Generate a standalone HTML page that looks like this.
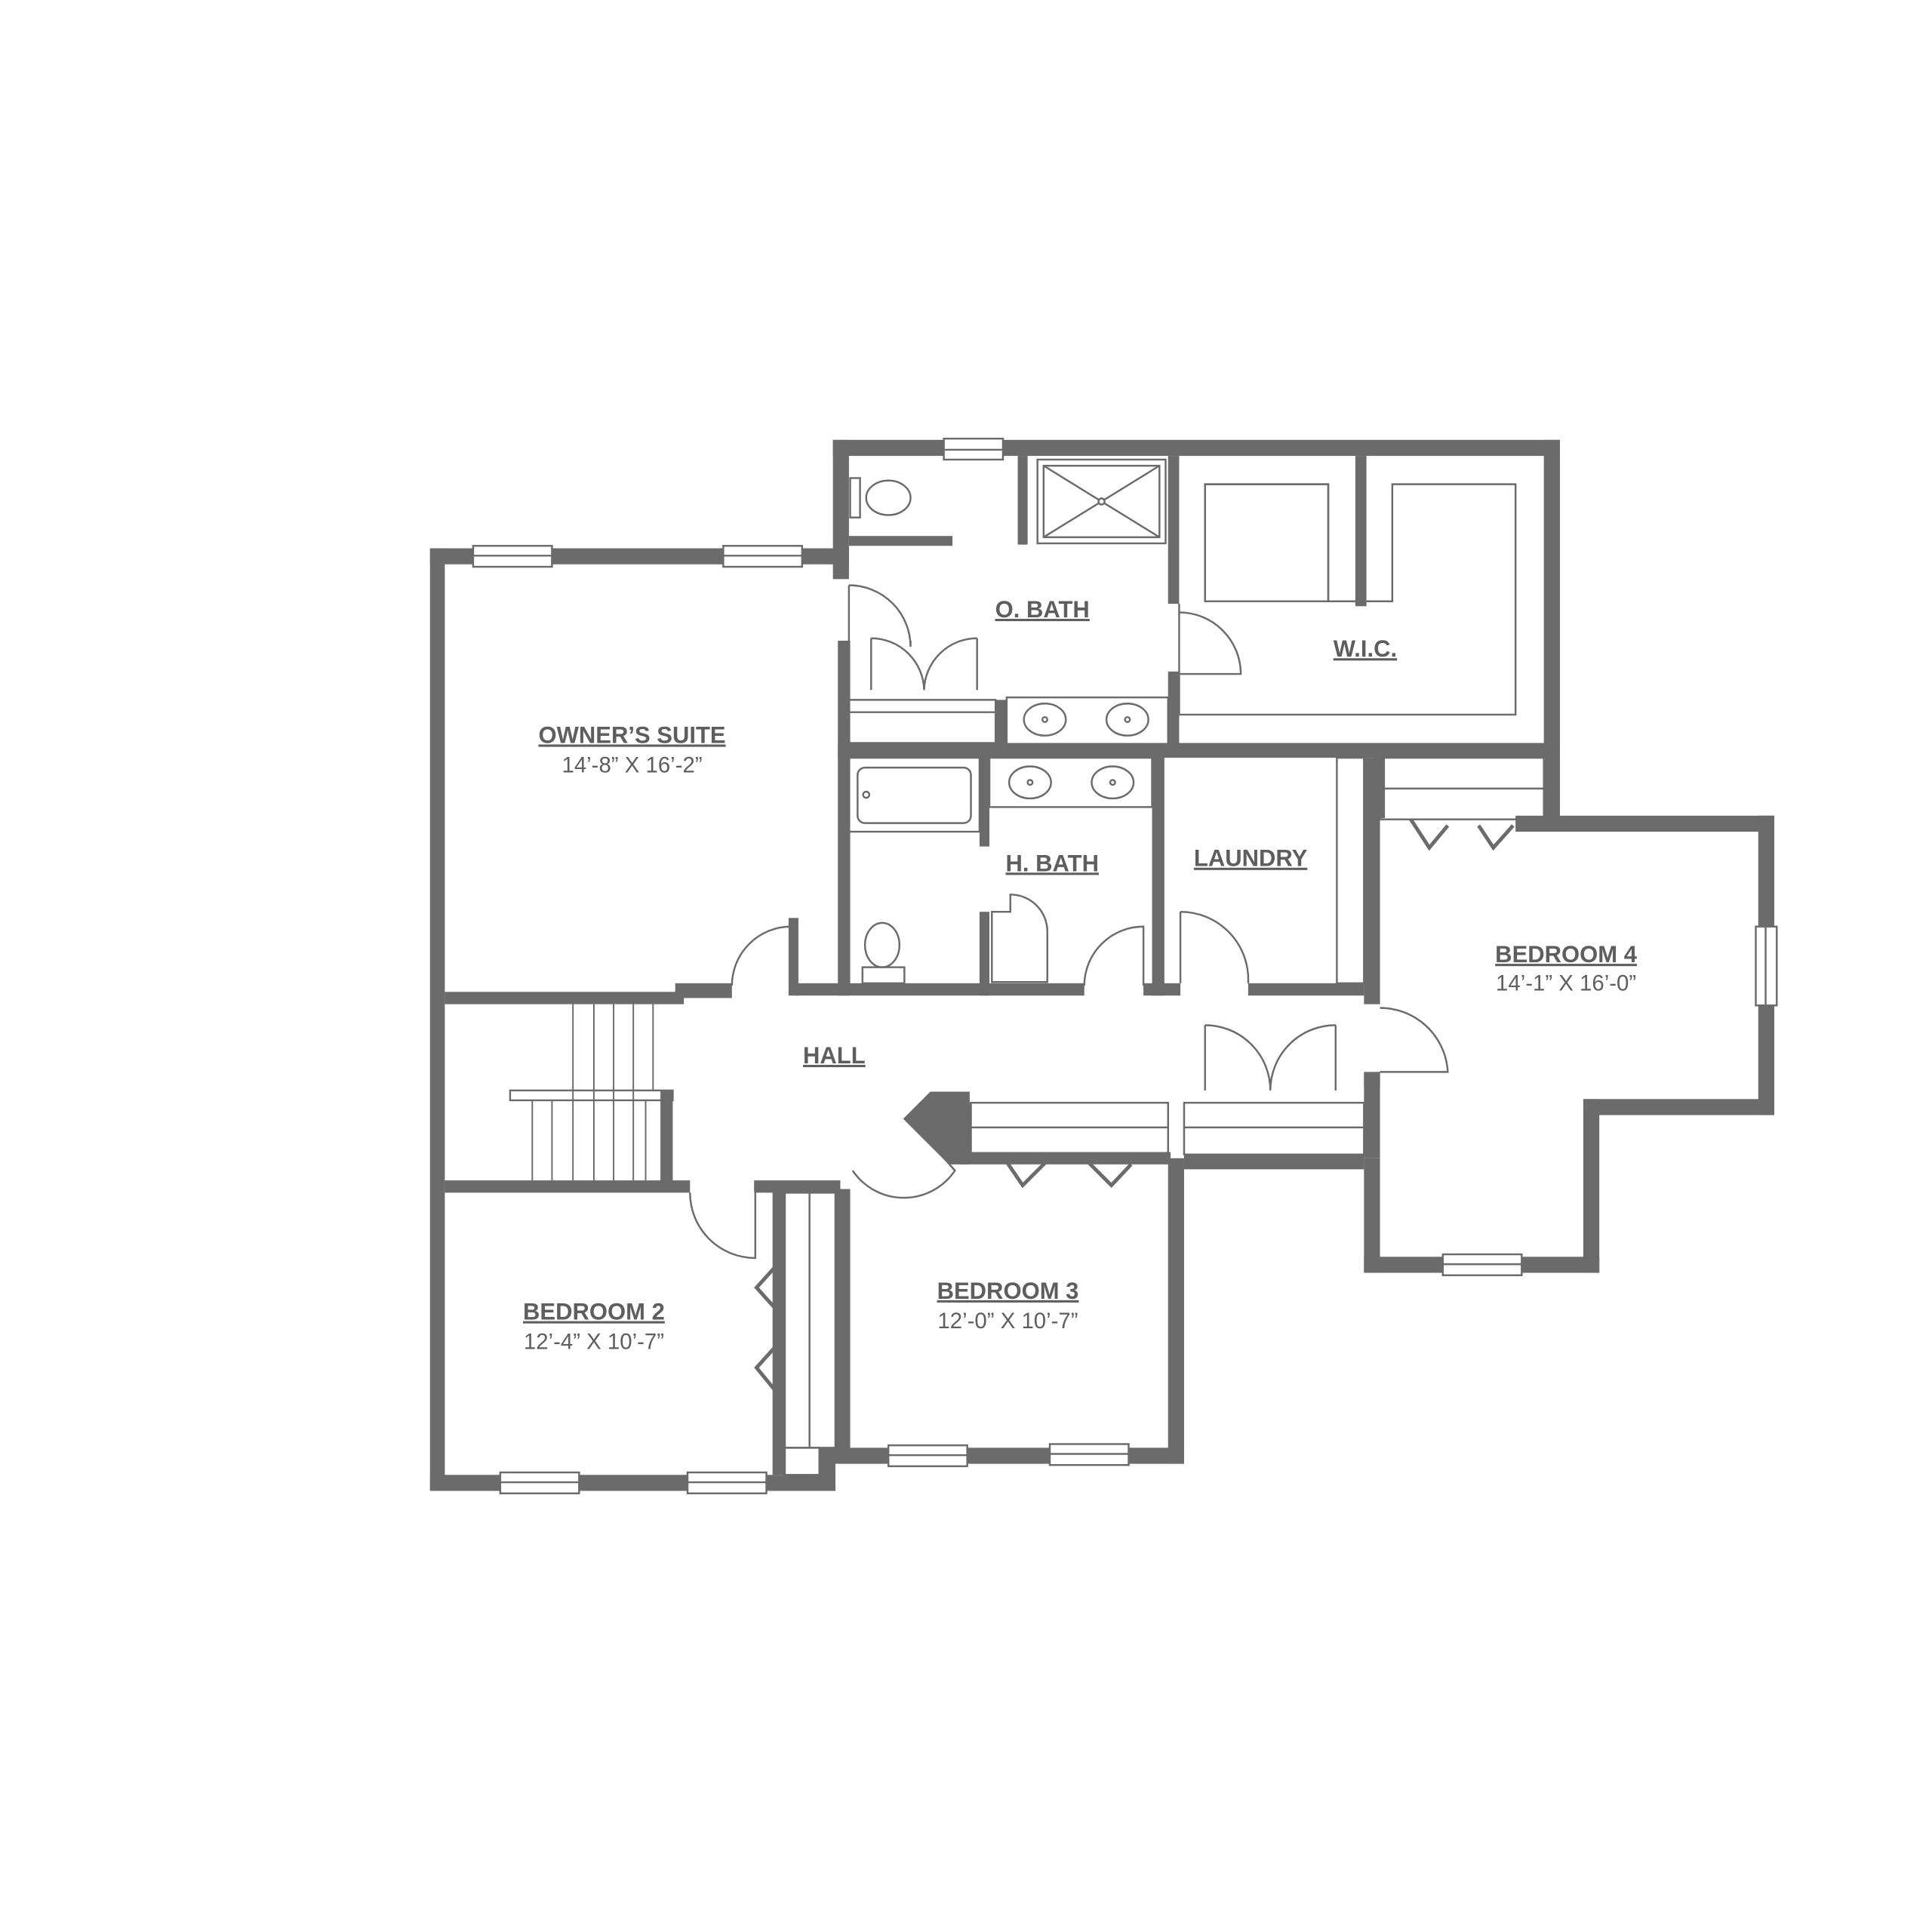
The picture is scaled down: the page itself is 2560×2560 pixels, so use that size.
<!DOCTYPE html>
<html><head><meta charset="utf-8"><style>
html,body{margin:0;padding:0;background:#fff}
svg{display:block}
.t{font-family:"Liberation Sans",sans-serif;font-weight:bold;font-size:19px;fill:#5e5e5e;text-decoration:underline;text-anchor:middle}
.d{font-family:"Liberation Sans",sans-serif;font-size:18px;fill:#5e5e5e;text-anchor:middle}
</style></head><body>
<svg width="2560" height="2560" viewBox="0 0 1568 1568" xmlns="http://www.w3.org/2000/svg">
<rect width="1568" height="1568" fill="#fff"/>
<g fill="#6b6b6b">
<!-- owner's suite outer -->
<rect x="349" y="445" width="12" height="765"/>
<rect x="349" y="445" width="340" height="13"/>
<!-- o bath / wic outer -->
<rect x="676" y="357" width="590" height="13"/>
<rect x="676" y="357" width="13" height="113"/>
<rect x="1253" y="357" width="13" height="308"/>
<!-- bedroom 4 -->
<rect x="1230" y="662" width="210" height="13"/>
<rect x="1427" y="662" width="13" height="243"/>
<rect x="1285" y="892" width="155" height="13"/>
<rect x="1285" y="892" width="13" height="141"/>
<rect x="1107" y="1020" width="191" height="13"/>
<rect x="1107" y="940" width="13" height="93"/>
<rect x="1107" y="870" width="13" height="70"/>
<rect x="1107" y="615" width="13" height="200"/>
<!-- middle horizontal wall -->
<rect x="680" y="603" width="586" height="12"/>
<!-- bedroom 3 -->
<rect x="948" y="940" width="13" height="248"/>
<rect x="665" y="1175" width="296" height="13"/>
<!-- bedroom 2 -->
<rect x="349" y="1197" width="329" height="13"/>
<rect x="665" y="1175" width="13" height="35"/>
<rect x="627" y="965" width="10" height="232"/>
<rect x="678" y="965" width="12" height="212"/>
<!-- interior -->
<rect x="361" y="805" width="194" height="10"/>
<rect x="548" y="798" width="46" height="12"/>
<rect x="645" y="798" width="235" height="10"/>
<rect x="928" y="798" width="30" height="10"/>
<rect x="1013" y="798" width="94" height="10"/>
<rect x="361" y="958" width="199" height="10"/>
<rect x="536" y="885" width="10" height="78"/>
<rect x="612" y="958" width="70" height="10"/>
<rect x="680" y="520" width="10" height="288"/>
<rect x="640" y="745" width="8" height="63"/>
<rect x="935" y="612" width="10" height="196"/>
<rect x="948" y="370" width="9" height="120"/>
<rect x="948" y="545" width="9" height="65"/>
<rect x="826" y="370" width="8" height="72"/>
<rect x="1100" y="370" width="9" height="122"/>
<rect x="795" y="612" width="8" height="75"/>
<rect x="795" y="740" width="8" height="68"/>
<rect x="689" y="435" width="84" height="8"/>
<rect x="808" y="568" width="9" height="40"/>
<rect x="780" y="935" width="170" height="10"/>
<rect x="961" y="937" width="146" height="12"/>
<rect x="780" y="895" width="8" height="45"/>
<rect x="1107" y="870" width="13" height="12"/>
<polygon points="733,908 755,886 787,886 787,945 770,945"/>
<rect x="1116" y="614" width="8" height="50"/>
</g>
<g fill="none" stroke="#6b6b6b" stroke-width="1.5">
<!-- windows -->
<rect x="384" y="443" width="64" height="17" fill="#fff"/><line x1="384" y1="451" x2="448" y2="451"/>
<rect x="587" y="443" width="64" height="17" fill="#fff"/><line x1="587" y1="451" x2="651" y2="451"/>
<rect x="766" y="356" width="48" height="17" fill="#fff"/><line x1="766" y1="365" x2="814" y2="365"/>
<rect x="1425" y="752" width="17" height="64" fill="#fff"/><line x1="1433" y1="752" x2="1433" y2="816"/>
<rect x="1171" y="1018" width="64" height="17" fill="#fff"/><line x1="1171" y1="1026" x2="1235" y2="1026"/>
<rect x="721" y="1173" width="64" height="17" fill="#fff"/><line x1="721" y1="1181" x2="785" y2="1181"/>
<rect x="852" y="1172" width="64" height="17" fill="#fff"/><line x1="852" y1="1180" x2="916" y2="1180"/>
<rect x="406" y="1195" width="64" height="17" fill="#fff"/><line x1="406" y1="1203" x2="470" y2="1203"/>
<rect x="558" y="1195" width="64" height="17" fill="#fff"/><line x1="558" y1="1203" x2="622" y2="1203"/>
<!-- stairs -->
<rect x="414" y="885" width="132" height="8"/>
<g stroke-width="1.2">
<line x1="465" y1="815" x2="465" y2="958"/><line x1="482" y1="815" x2="482" y2="958"/>
<line x1="498" y1="815" x2="498" y2="958"/><line x1="514" y1="815" x2="514" y2="958"/>
<line x1="530" y1="815" x2="530" y2="885"/>
<line x1="432" y1="893" x2="432" y2="958"/><line x1="448" y1="893" x2="448" y2="958"/>
<line x1="524" y1="893" x2="524" y2="958"/>
</g>
<!-- shower -->
<rect x="842" y="373" width="104" height="68"/><rect x="847" y="378" width="94" height="58"/>
<line x1="847" y1="378" x2="941" y2="436"/><line x1="941" y1="378" x2="847" y2="436"/>
<circle cx="894" cy="407" r="2.5" fill="#fff"/>
<!-- vanities -->
<rect x="817" y="566" width="131" height="38"/>
<ellipse cx="848" cy="584" rx="17" ry="13"/><ellipse cx="915" cy="584" rx="17" ry="13"/>
<circle cx="848" cy="584" r="2"/><circle cx="915" cy="584" r="2"/>
<rect x="803" y="615" width="132" height="40"/>
<ellipse cx="836" cy="635" rx="17" ry="13"/><ellipse cx="903" cy="635" rx="17" ry="13"/>
<circle cx="836" cy="635" r="2"/><circle cx="903" cy="635" r="2"/>
<!-- tub -->
<rect x="689" y="615" width="106" height="60"/><rect x="696" y="623" width="92" height="45" rx="6"/>
<circle cx="703" cy="645" r="2.5"/>
<!-- toilets -->
<rect x="690" y="388" width="8" height="32"/><ellipse cx="721" cy="404" rx="18" ry="14"/>
<rect x="700" y="785" width="34" height="13"/><ellipse cx="716" cy="767" rx="14" ry="18"/>
<!-- closets -->
<rect x="689" y="568" width="119" height="35"/><line x1="689" y1="578" x2="808" y2="578"/>
<rect x="978" y="393" width="100" height="95"/>
<path d="M957,490 V580 H1230 V393 H1130 V488 H1108"/>
<path d="M978,488 V393 H1078 V488 H1100"/>
<rect x="1085" y="615" width="22" height="183"/>
<rect x="1120" y="615" width="133" height="50"/><line x1="1120" y1="640" x2="1253" y2="640"/>
<rect x="1120" y="886" width="0" height="0"/>
<rect x="961" y="895" width="146" height="42"/><line x1="961" y1="915" x2="1107" y2="915"/>
<rect x="788" y="895" width="160" height="42"/><line x1="788" y1="915" x2="948" y2="915"/>
<rect x="637" y="968" width="41" height="207"/><line x1="657" y1="968" x2="657" y2="1175"/>
<rect x="637" y="1175" width="28" height="22"/>
<!-- doors -->
<path d="M689,475 A50,50 0 0 1 739,525 L739,520"/><line x1="689" y1="475" x2="689" y2="520"/>
<path d="M707,518 V560 M707,518 A43,43 0 0 1 750,560 M793,518 V560 M793,518 A43,43 0 0 0 750,560"/>
<path d="M957,497 A50,50 0 0 1 1007,547 H957"/>
<path d="M594,800 A48,48 0 0 1 642,752 V800"/>
<path d="M880,800 A48,48 0 0 1 928,752 V800"/>
<path d="M958,740 A55,55 0 0 1 1013,798 M958,740 V798"/>
<path d="M820,726 A30,30 0 0 1 850,756 V797 H805 V740 H820 Z"/>
<path d="M1120,818 A55,55 0 0 1 1175,870 H1120"/>
<path d="M978,832 V885 M978,832 A53,53 0 0 1 1031,885 M1084,832 V885 M1084,832 A53,53 0 0 0 1031,885"/>
<path d="M740,910 L775,950 A50,50 0 0 1 692,950"/>
<path d="M560,968 A53,53 0 0 0 613,1021 V968"/>
<path d="M1145,665 L1160,688 L1175,670 M1200,670 L1212,688 L1228,670" stroke-width="3"/>
<path d="M815,940 L830,962 L852,940 M880,940 L902,962 L918,945" stroke-width="3"/>
<path d="M632,1025 L614,1045 L632,1065 M632,1090 L614,1110 L632,1132" stroke-width="3"/>
</g>
<text class="t" x="513" y="603">OWNER’S SUITE</text>
<text class="d" x="513" y="627">14’-8” X 16’-2”</text>
<text class="t" x="846" y="501">O. BATH</text>
<text class="t" x="1108" y="533">W.I.C.</text>
<text class="t" x="854" y="707">H. BATH</text>
<text class="t" x="1015" y="703">LAUNDRY</text>
<text class="t" x="1271" y="781">BEDROOM 4</text>
<text class="d" x="1271" y="804">14’-1” X 16’-0”</text>
<text class="t" x="677" y="863">HALL</text>
<text class="t" x="818" y="1054">BEDROOM 3</text>
<text class="d" x="818" y="1078">12’-0” X 10’-7”</text>
<text class="t" x="482" y="1071">BEDROOM 2</text>
<text class="d" x="482" y="1095">12’-4” X 10’-7”</text>
</svg>
</body></html>
